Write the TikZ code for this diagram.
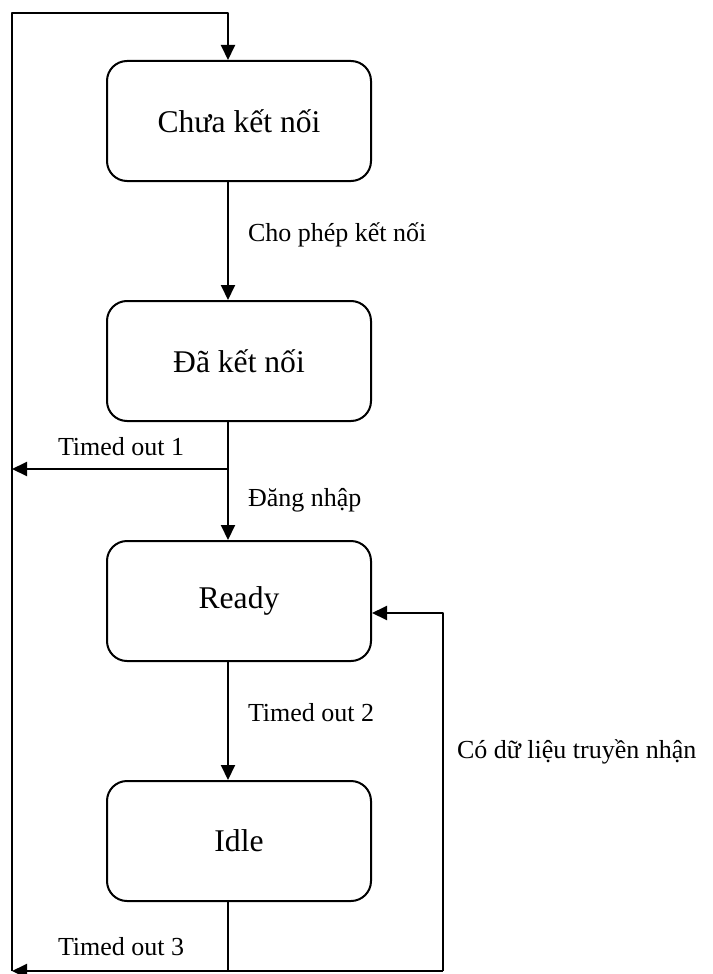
\documentclass[tikz,border=0pt]{standalone}
\usepackage{fontspec}
\setmainfont{Liberation Serif}
\usetikzlibrary{arrows.meta}
\tikzset{
  state/.style={draw, rounded corners=10pt, minimum width=132pt, minimum height=60pt, font=\fontsize{15.8}{19}\selectfont},
  lbl/.style={font=\fontsize{13}{16}\selectfont, inner sep=0pt, anchor=west},
}
\begin{document}
\begin{tikzpicture}[x=0.5pt, y=-0.5pt, line width=1pt, line join=round, >={Triangle[length=7.5pt,width=7pt]}]
	\useasboundingbox (0,0) rectangle (712,974);
	\foreach \n/\y/\t in {chua/121/{Chưa kết nối}, da/361/{Đã kết nối}, ready/601/Ready, idle/841/Idle}
		\node[state] (\n) at (239,\y) {\t};
	\coordinate (tl) at (12,13);
	\coordinate (bl) at (12,971);
	\coordinate (br) at (443,971);
	\coordinate (ax) at (228,0);
	\coordinate (t1) at (228,469);
	% main chain
	\draw[->] (bl) -- (tl) -| (ax |- chua.north);
	\draw[->] (ax |- chua.south) -- (ax |- da.north);
	\draw[->] (ax |- da.south) -- (ax |- ready.north);
	\draw[->] (ax |- ready.south) -- (ax |- idle.north);
	% timeouts
	\draw[->] (t1) -- (tl |- t1);
	\draw (ax |- idle.south) -- (ax |- bl);
	\draw[->] (br) -- (bl);
	\draw[->] (br) |- ([yshift=-6pt]ready.east);
	\node[lbl] (l1) at (247,235) {Cho phép kết nối};
	\node[lbl] (l2) at (247,500) {Đăng nhập};
	\node[lbl] (l3) at (247,713) {Timed out 2};
	\node[lbl] (l4) at (456,752) {Có dữ liệu truyền nhận};
	\node[lbl] (l5) at (57,447) {Timed out 1};
	\node[lbl] (l6) at (57,947) {Timed out 3};
\end{tikzpicture}
\end{document}
